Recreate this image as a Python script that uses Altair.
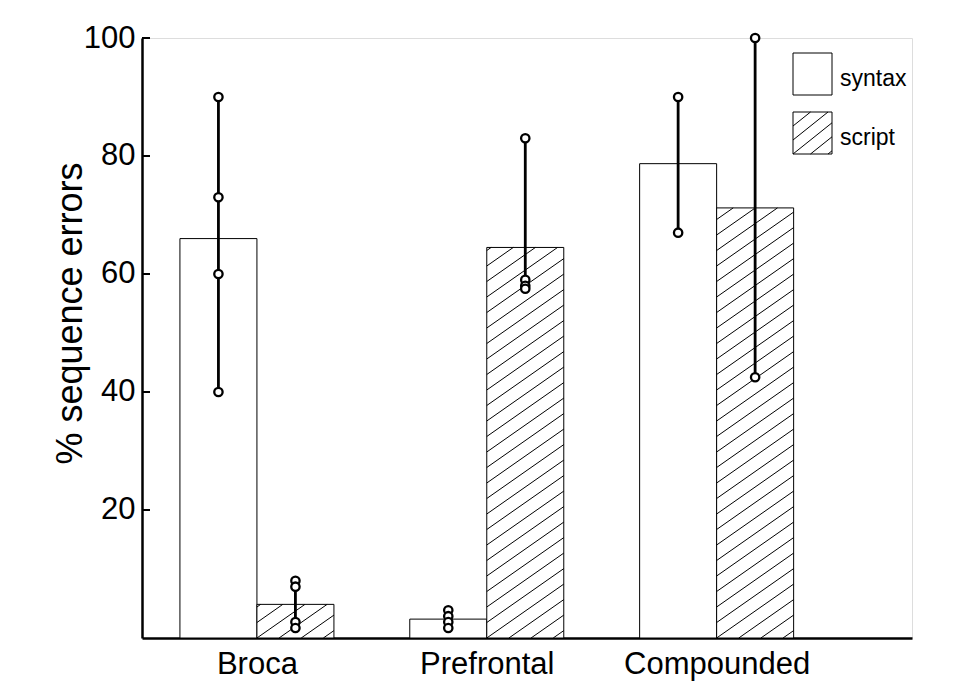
import altair as alt
import pandas as pd
import numpy as np

# ---------------- data ----------------
groups = ["Broca", "Prefrontal", "Compounded"]
series = ["syntax", "script"]
syntax_means = [66.0, 1.5, 78.7]
script_means = [4.0, 64.5, 71.2]
syntax_points = [[90, 73, 60, 40], [3, 2, 1, 0], [90, 67]]
script_points = [[8, 7, 1, 0], [83, 59, 58, 57.5], [100, 42.5]]
y_ticks = [20, 40, 60, 80, 100]
y_title = "% sequence errors"

# ---------------- layout constants ----------------
W, H = 770, 600
X_DOM = [-0.5, 2.85]
Y_DOM = [-1.7, 100]
BW = 0.335          # bar width in group units
HATCH_SP = 15.5     # px between hatch lines (vertical)
HATCH_SLOPE = 0.7
FONT = "Liberation Sans"
# legend layout (pixels, relative to plot origin)
LG_X0, LG_X1 = 651, 690
LG_ROWS = {"syntax": (15, 57), "script": (74, 116)}
LG_TEXT_X = 698

sx = W / (X_DOM[1] - X_DOM[0])
sy = H / (Y_DOM[1] - Y_DOM[0])

means = {"syntax": syntax_means, "script": script_means}
pts = {"syntax": syntax_points, "script": script_points}
offset = {"syntax": -1, "script": 0}

bar_rows, pt_rows, rng_rows = [], [], []
for gi, g in enumerate(groups):
    for s in series:
        x0 = gi + offset[s] * BW
        x1 = x0 + BW
        xc = (x0 + x1) / 2
        bar_rows.append(dict(group=g, series=s, x0=x0, x1=x1, v=means[s][gi], base=Y_DOM[0]))
        vals = pts[s][gi]
        for v in vals:
            pt_rows.append(dict(group=g, series=s, xc=xc, v=v))
        rng_rows.append(dict(group=g, series=s, xc=xc, lo=min(vals), hi=max(vals)))

bars = pd.DataFrame(bar_rows)
points = pd.DataFrame(pt_rows)
ranges = pd.DataFrame(rng_rows)


def hatch_segments(X0, X1, Ytop, Ybot, sp, slope):
    """Clip '/' lines to rectangle in pixel space."""
    Wd, Hd = X1 - X0, Ybot - Ytop
    segs = []
    kmin = int(np.ceil(-slope * Wd / sp))
    kmax = int(np.floor(Hd / sp))
    for k in range(kmin, kmax + 1):
        d = k * sp
        a = max(0.0, -d / slope)
        b = min(Wd, (Hd - d) / slope)
        if b - a > 0.5:
            segs.append((X0 + a, Ybot - d - slope * a, X0 + b, Ybot - d - slope * b))
    return segs


hatch_rows = []
for r in bar_rows:
    if r["series"] != "script":
        continue
    X0 = (r["x0"] - X_DOM[0]) * sx
    X1 = (r["x1"] - X_DOM[0]) * sx
    Ytop = (Y_DOM[1] - r["v"]) * sy
    Ybot = H
    for (xa, ya, xb, yb) in hatch_segments(X0, X1, Ytop, Ybot, HATCH_SP, HATCH_SLOPE):
        hatch_rows.append(dict(
            xa=xa / sx + X_DOM[0], ya=Y_DOM[1] - ya / sy,
            xb=xb / sx + X_DOM[0], yb=Y_DOM[1] - yb / sy))
hatch = pd.DataFrame(hatch_rows)

# legend (pixel space)
lg_boxes = pd.DataFrame([dict(series=s, x0=LG_X0, x1=LG_X1, y0=LG_ROWS[s][0], y1=LG_ROWS[s][1])
                         for s in series])
lg_text = pd.DataFrame([dict(series=s, x=LG_TEXT_X, y=(LG_ROWS[s][0] + LG_ROWS[s][1]) / 2 + 5)
                        for s in series])
y0, y1 = LG_ROWS["script"]
lg_hatch = pd.DataFrame([dict(xa=a, ya=b, xb=c, yb=d)
                         for a, b, c, d in hatch_segments(LG_X0, LG_X1, y0, y1, 14, 0.8)])

xs = alt.Scale(domain=X_DOM, nice=False, zero=False)
ys = alt.Scale(domain=Y_DOM, nice=False, zero=False)

label_expr = "[" + ",".join(f"'{g}'" for g in groups) + "][datum.value]"

bar_layer = alt.Chart(bars).mark_rect(fill="white", stroke="black", strokeWidth=1).encode(
    x=alt.X("x0:Q", scale=xs, axis=alt.Axis(
        values=[0, 1, 2], labelExpr=label_expr, tickSize=0, labelPadding=11,
        domainColor="black", domainWidth=2.5, grid=False, title=None, labelLimit=0,
        labelFontSize=31, labelColor="black", labelFont=FONT)),
    x2="x1:Q",
    y=alt.Y("v:Q", scale=ys, axis=alt.Axis(
        values=y_ticks, tickSize=0, labelPadding=7, domainColor="black",
        domainWidth=2.5, grid=False, title=y_title, labelFontSize=31, labelLimit=0,
        labelColor="black", labelFont=FONT, titleFontSize=36, titleFont=FONT,
        titleFontWeight="normal", titleColor="black", titleX=-72, titleY=275,
        titleAlign="center", titleBaseline="middle", titleLimit=0)),
    y2="base:Q",
)

hatch_layer = alt.Chart(hatch).mark_rule(color="black", strokeWidth=1).encode(
    x=alt.X("xa:Q", scale=xs), x2="xb:Q",
    y=alt.Y("ya:Q", scale=ys), y2="yb:Q",
)

tick_layer = alt.Chart(pd.DataFrame({"t": y_ticks})).mark_rule(color="black", strokeWidth=2).encode(
    y=alt.Y("t:Q", scale=ys), x=alt.value(0), x2=alt.value(8),
)

range_layer = alt.Chart(ranges).mark_rule(color="black", strokeWidth=2.8).encode(
    x=alt.X("xc:Q", scale=xs), y=alt.Y("lo:Q", scale=ys), y2="hi:Q",
)

point_layer = alt.Chart(points).mark_point(
    shape="circle", filled=True, fill="white", stroke="black", strokeWidth=2.3, size=70, opacity=1
).encode(
    x=alt.X("xc:Q", scale=xs), y=alt.Y("v:Q", scale=ys),
)

lg_box_layer = alt.Chart(lg_boxes).mark_rect(fill="white", stroke="black", strokeWidth=1).encode(
    x=alt.X("x0:Q", scale=None), x2="x1:Q",
    y=alt.Y("y0:Q", scale=None), y2="y1:Q",
)
lg_hatch_layer = alt.Chart(lg_hatch).mark_rule(color="black", strokeWidth=1).encode(
    x=alt.X("xa:Q", scale=None), x2="xb:Q",
    y=alt.Y("ya:Q", scale=None), y2="yb:Q",
)
lg_text_layer = alt.Chart(lg_text).mark_text(
    align="left", baseline="middle", fontSize=23, font=FONT, color="black"
).encode(
    x=alt.X("x:Q", scale=None), y=alt.Y("y:Q", scale=None), text="series:N",
)

chart = alt.layer(
    bar_layer, hatch_layer, tick_layer, range_layer, point_layer,
    lg_box_layer, lg_hatch_layer, lg_text_layer,
).properties(
    width=W, height=H,
    autosize=alt.AutoSizeParams(type="none"),
    padding={"left": 134, "top": 30, "right": 20, "bottom": 45},
    background="white",
).configure_view(stroke=None).configure(font=FONT)

chart.save("out.html", embed_options={"renderer": "svg", "actions": False})
